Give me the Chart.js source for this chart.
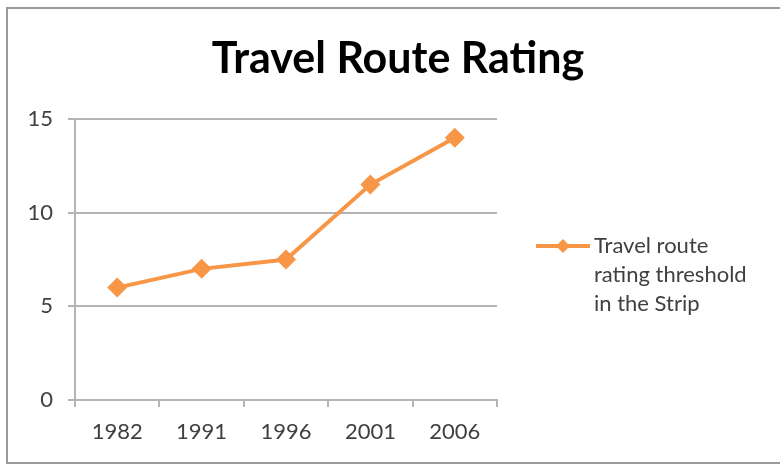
<!DOCTYPE html>
<html>
<head>
<meta charset="utf-8">
<script src="https://cdn.jsdelivr.net/npm/chart.js@4.4.0/dist/chart.umd.min.js"></script>
<style>
  html, body { margin: 0; padding: 0; background: #fff; overflow: hidden; }
  #wrap { width: 780px; height: 466px; position: relative; }
</style>
</head>
<body>
<div id="wrap"><canvas id="c" width="780" height="466"></canvas></div>
<script>
const chartTitle = 'Travel Route Rating';
const categories = ['1982', '1991', '1996', '2001', '2006'];
const seriesValues = [6, 7, 7.5, 11.5, 14];
const seriesLabelLines = ['Travel route', 'rating threshold', 'in the Strip'];
const yTicks = [0, 5, 10, 15];

const ORANGE = '#F79646';
const GRID = '#B4B4B4';
const TEXT = '#404040';

const decorPlugin = {
  id: 'decor',
  beforeDraw(chart) {
    const ctx = chart.ctx;
    ctx.save();
    ctx.fillStyle = '#fff';
    ctx.fillRect(0, 0, chart.width, chart.height);
    // outer frame (top, left, bottom; right edge is cut off)
    ctx.strokeStyle = '#9a9a9a';
    ctx.lineWidth = 2;
    ctx.beginPath();
    ctx.moveTo(800, 8);
    ctx.lineTo(7, 8);
    ctx.lineTo(7, 463);
    ctx.lineTo(800, 463);
    ctx.stroke();
    ctx.restore();
  },
  afterDraw(chart) {
    const ctx = chart.ctx;
    ctx.save();
    // title
    ctx.fillStyle = '#000';
    ctx.font = 'bold 43px Lato';
    ctx.textAlign = 'center';
    ctx.textBaseline = 'alphabetic';
    ctx.fillText(chartTitle, 398, 73);
    // legend
    const ds = chart.data.datasets[0];
    const ly = 246;
    ctx.strokeStyle = ds.borderColor;
    ctx.lineWidth = 4;
    ctx.beginPath();
    ctx.moveTo(536, ly);
    ctx.lineTo(590, ly);
    ctx.stroke();
    ctx.fillStyle = ds.backgroundColor;
    const r = 7;
    ctx.beginPath();
    ctx.moveTo(563, ly - r);
    ctx.lineTo(563 + r, ly);
    ctx.lineTo(563, ly + r);
    ctx.lineTo(563 - r, ly);
    ctx.closePath();
    ctx.fill();
    ctx.fillStyle = TEXT;
    ctx.font = '22px Lato';
    ctx.textAlign = 'left';
    ctx.textBaseline = 'middle';
    seriesLabelLines.forEach((t, i) => ctx.fillText(t, 594, ly + i * 29));
    ctx.restore();
  }
};

new Chart(document.getElementById('c'), {
  type: 'line',
  data: {
    labels: categories,
    datasets: [{
      label: seriesLabelLines.join(' '),
      data: seriesValues,
      borderColor: ORANGE,
      backgroundColor: ORANGE,
      borderWidth: 4,
      pointStyle: 'rectRot',
      pointRadius: 10,
      pointHoverRadius: 10,
      pointBorderWidth: 0,
      tension: 0
    }]
  },
  options: {
    responsive: false,
    animation: false,
    events: [],
    layout: { padding: { top: 119, right: 283, bottom: 0, left: 0 } },
    plugins: {
      legend: { display: false },
      title: { display: false },
      tooltip: { enabled: false }
    },
    scales: {
      x: {
        offset: true,
        grid: {
          offset: true,
          drawOnChartArea: false,
          drawTicks: true,
          tickLength: 7,
          color: GRID,
          lineWidth: 2
        },
        border: { display: true, color: GRID, width: 2 },
        ticks: {
          color: TEXT,
          font: { family: 'Lato', size: 22 },
          padding: 12,
          maxRotation: 0
        },
        afterFit(s) { s.height = 66; }
      },
      y: {
        min: 0,
        max: 15,
        afterBuildTicks(s) { s.ticks = yTicks.map(v => ({ value: v })); },
        grid: {
          color: GRID,
          lineWidth: 2,
          tickLength: 7
        },
        border: { display: true, color: GRID, width: 2 },
        ticks: {
          color: TEXT,
          font: { family: 'Lato', size: 22 },
          padding: 15
        },
        afterFit(s) { s.width = 75; }
      }
    }
  },
  plugins: [decorPlugin]
});
</script>
</body>
</html>
